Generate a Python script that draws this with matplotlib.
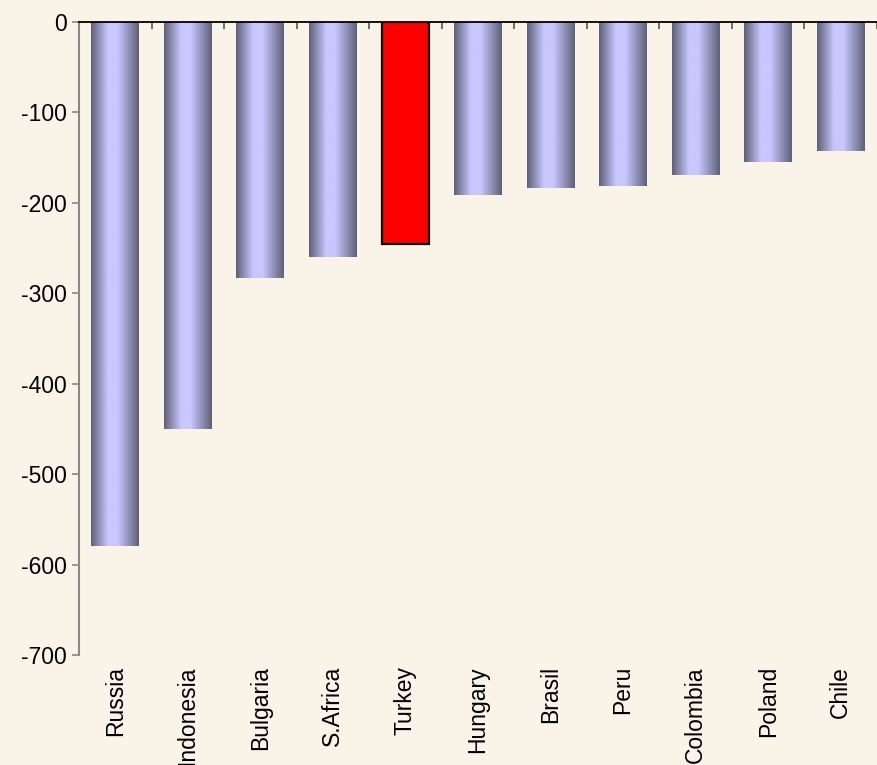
import numpy as np
import matplotlib.pyplot as plt
from matplotlib.colors import LinearSegmentedColormap

countries = ['Russia', 'Indonesia', 'Bulgaria', 'S.Africa', 'Turkey', 'Hungary',
             'Brasil', 'Peru', 'Colombia', 'Poland', 'Chile']
values = [-580, -450, -283, -260, -245, -191, -184, -181, -169, -155, -143]
highlight = 'Turkey'

bg = '#FAF3E8'
plt.rcParams['font.family'] = ['Liberation Sans', 'DejaVu Sans']
plt.rcParams['axes.unicode_minus'] = False

fig = plt.figure(figsize=(8.77, 7.65), dpi=100, facecolor=bg)
ax = fig.add_axes([0.0901, 0.1438, 0.9099, 0.8274], facecolor=bg)

# shaded bar look: dark edges, light lavender middle
shade = LinearSegmentedColormap.from_list('shade', [(0.0, '#5E6078'), (0.36, '#C8C8FF'),
                                                    (0.55, '#C8C8FF'), (1.0, '#5E6078')])
grad = np.linspace(0, 1, 256).reshape(1, -1)

x = np.arange(len(countries))
bars = ax.bar(x, values, width=0.66, color='none', edgecolor='none')
for b, name in zip(bars, countries):
    x0, w, h = b.get_x(), b.get_width(), b.get_height()
    if name == highlight:
        b.set_facecolor('#FF0000')
        b.set_edgecolor('black')
        b.set_linewidth(1.6)
    else:
        ax.imshow(grad, cmap=shade, aspect='auto', extent=(x0, x0 + w, h, 0),
                  interpolation='bilinear', zorder=2)

ax.set_xlim(-0.5, len(countries) - 0.5)
ax.set_ylim(-700, 0)
ax.set_aspect('auto')

ax.set_yticks(np.arange(-700, 1, 100))
ax.set_xticks(x)
ax.set_xticklabels(countries, rotation=90, fontsize=16.5)
ax.set_xticks(np.arange(-0.5, len(countries), 1.0), minor=True)
ax.tick_params(axis='x', which='major', length=0, pad=8)
ax.tick_params(axis='x', which='minor', bottom=False, top=True, direction='in',
               length=5, color='#555555', width=1.2)
ax.tick_params(axis='y', labelsize=16.5, length=5, color='#888888', width=1.2, pad=4)

for s in ['bottom', 'right']:
    ax.spines[s].set_visible(False)
ax.spines['top'].set_color('black')
ax.spines['top'].set_linewidth(1.3)
ax.spines['left'].set_color('#888888')
ax.spines['left'].set_linewidth(1.5)

plt.savefig('out.png', dpi=100, facecolor=bg)
